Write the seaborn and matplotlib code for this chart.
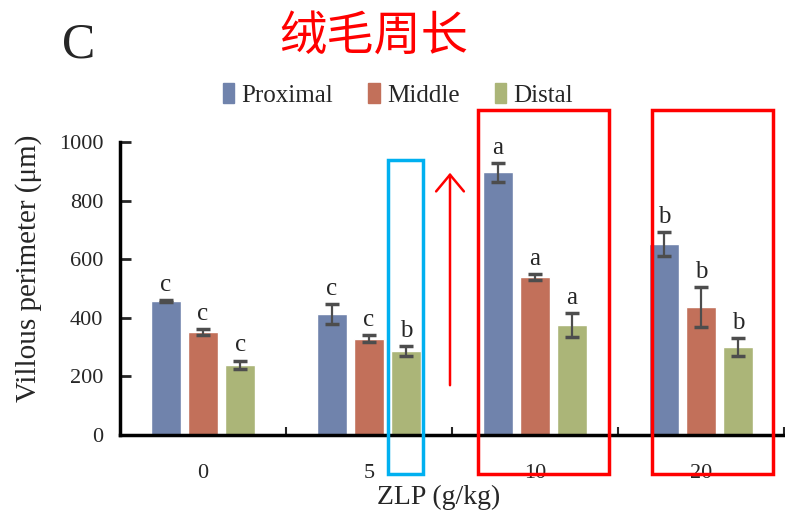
import numpy as np
import pandas as pd
import matplotlib
matplotlib.use("Agg")
import matplotlib.pyplot as plt
import seaborn as sns
from matplotlib.patches import Rectangle, FancyArrowPatch

# ── data ────────────────────────────────────────────────────────────────────
doses = ["0", "5", "10", "20"]
segments = ["Proximal", "Middle", "Distal"]
proximal = [457, 413, 897, 652]
middle = [351, 328, 539, 437]
distal = [239, 287, 375, 300]
proximal_err = [3, 33, 32, 40]
middle_err = [10, 12, 10, 67]
distal_err = [15, 17, 40, 30]
letters = {
    "Proximal": ["c", "c", "a", "b"],
    "Middle": ["c", "c", "a", "b"],
    "Distal": ["c", "b", "a", "b"],
}

df = pd.DataFrame({
    "dose": doses * 3,
    "segment": np.repeat(segments, 4),
    "value": proximal + middle + distal,
    "err": proximal_err + middle_err + distal_err,
})

colors = ["#7083AC", "#C2705A", "#ABB578"]
serif = "Liberation Serif"

sns.set_style("white")
plt.rcParams["font.family"] = [serif, "DejaVu Sans"]

W, H = 785, 521
fig = plt.figure(figsize=(W / 100, H / 100), dpi=100)
ax = fig.add_axes([120 / W, (H - 435) / H, (784 - 120) / W, (435 - 142) / H])

sns.barplot(data=df, x="dose", y="value", hue="segment", order=doses,
            hue_order=segments, palette=colors, saturation=1, width=0.67,
            gap=0.2, errorbar=None, legend=False, ax=ax)

# error bars + significance letters
for cont, seg in zip(ax.containers, segments):
    sub = df[df["segment"] == seg].set_index("dose").loc[doses]
    xs = [b.get_x() + b.get_width() / 2 for b in cont]
    ax.errorbar(xs, sub["value"], yerr=sub["err"], fmt="none",
                ecolor="#4d4d4d", elinewidth=1.6, capsize=5, capthick=2.5)
    for x, v, e, t in zip(xs, sub["value"], sub["err"], letters[seg]):
        ax.text(x, v + e + 14, t, ha="center", va="bottom", fontsize=18,
                family=serif)

ax.set_ylim(0, 1000)
ax.set_xlim(-0.5, 3.5)
ax.set_yticks(range(0, 1001, 200))
ax.tick_params(axis="y", direction="in", length=8, width=2, labelsize=16,
               pad=12, left=True)
ax.set_xticks([0.5, 1.5, 2.5, 3.5], minor=True)
ax.tick_params(axis="x", which="major", length=0, labelsize=16, pad=21)
ax.tick_params(axis="x", which="minor", direction="in", length=6, width=1.5,
               bottom=True)
for s in ["top", "right"]:
    ax.spines[s].set_visible(False)
for s in ["left", "bottom"]:
    ax.spines[s].set_color("black")
    ax.spines[s].set_linewidth(2.5)
ax.set_xlabel("ZLP (g/kg)", fontsize=20)
ax.set_ylabel("Villous perimeter (μm)", fontsize=21)
ax.xaxis.set_label_coords(0.48, -0.17)
ax.yaxis.set_label_coords(-0.118, 0.57)

# legend
handles = [Rectangle((0, 0), 1, 1, color=c) for c in colors]
fig.legend(handles, segments, loc="center", bbox_to_anchor=(398 / W, 1 - 95 / H),
           ncol=3, frameon=False, fontsize=18, handlelength=0.45,
           handleheight=0.8, handletextpad=0.3, columnspacing=1.4)

# panel letter and title
fig.text(62 / W, 1 - 45 / H, "C", fontsize=36, family=serif, va="center")
fig.text(374 / W, 1 - 37 / H, "绒毛周长", fontsize=34, color="red",
         family=["Noto Sans CJK SC", "DejaVu Sans"], ha="center", va="center")

# highlight boxes and arrow (figure pixel coordinates)
def box(x0, y0, x1, y1, color):
    fig.add_artist(Rectangle((x0 / W, 1 - y1 / H), (x1 - x0) / W, (y1 - y0) / H,
                             transform=fig.transFigure, fill=False,
                             edgecolor=color, linewidth=2.5, clip_on=False))

box(388, 160, 423, 474, "#00B0F0")
box(478, 110, 609, 474, "red")
box(652, 110, 773, 474, "red")
fig.add_artist(FancyArrowPatch((450 / W, 1 - 388 / H), (450 / W, 1 - 170 / H),
                               transform=fig.transFigure, arrowstyle="->,head_length=6,head_width=5",
                               color="red", linewidth=1.8, mutation_scale=2))

fig.savefig("out.png", dpi=100)
